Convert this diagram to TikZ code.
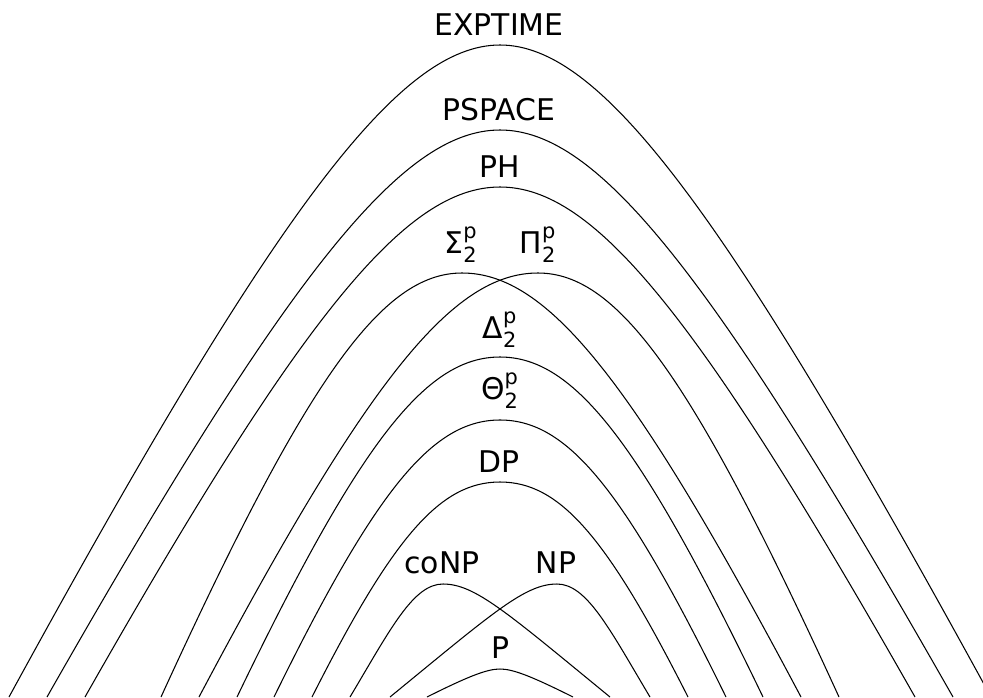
\documentclass[tikz,border=0pt]{standalone}
\usepackage{amsmath}
\usepackage{fontspec}
\setmainfont{DejaVu Sans}
\usepackage{tikz}

\begin{document}
\begin{tikzpicture}[x=0.02cm,y=-0.02cm,line width=0.6pt]
\tikzstyle{cls}=[font=\fontsize{17}{20}\selectfont,inner sep=0pt,anchor=base]
\useasboundingbox (0,0) rectangle (983,697);
\clip (0,0) rectangle (983,697);
% class borders, outermost first
\draw (9,697) .. controls (276.2,208) and (399,45) .. (500,45)
  .. controls (601,45) and (723.8,208) .. (991,697);
\draw (47,697) .. controls (289,271.7) and (402.3,130) .. (500,130)
  .. controls (597.7,130) and (711,271.7) .. (953,697);
\draw (85,697) .. controls (302.1,314.5) and (405.8,187) .. (500,187)
  .. controls (594.2,187) and (697.9,314.5) .. (915,697);
\draw (161,697) .. controls (306.4,379) and (381.6,273) .. (462,273)
  .. controls (547.6,273) and (632.4,379) .. (801,697);
\draw (199,697) .. controls (367.6,379) and (452.4,273) .. (538,273)
  .. controls (618.4,273) and (693.6,379) .. (839,697);
\draw (237,697) .. controls (359.9,442) and (425.7,357) .. (500,357)
  .. controls (574.3,357) and (640.1,442) .. (763,697);
\draw (274,697) .. controls (375.9,489.3) and (432.4,420) .. (500,420)
  .. controls (567.6,420) and (624.1,489.3) .. (726,697);
\draw (312,697) .. controls (393.5,535.8) and (440.5,482) .. (500,482)
  .. controls (559.5,482) and (606.5,535.8) .. (688,697);
\draw (350,697) .. controls (390,630) and (413,584) .. (443,584)
  .. controls (475,584) and (506.6,612.3) .. (610,697);
\draw (390,697) .. controls (493.4,612.3) and (525,584) .. (557,584)
  .. controls (587,584) and (610,630) .. (650,697);
\draw (427,697) .. controls (469,676) and (487.2,669) .. (500,669)
  .. controls (512.8,669) and (531,676) .. (573,697);
% labels
\node[cls] (exptime) at (499,35) {EXPTIME};
\node[cls] (pspace) at (499,120) {PSPACE};
\node[cls] (ph) at (500,177) {PH};
\node[cls] (sigma) at (461,253) {Σ$^{\text{p}}_{\text{2}}$};
\node[cls] (pi) at (538,253) {Π$^{\text{p}}_{\text{2}}$};
\node[cls] (delta) at (500,338) {Δ$^{\text{p}}_{\text{2}}$};
\node[cls] (theta) at (500,399) {Θ$^{\text{p}}_{\text{2}}$};
\node[cls] (dp) at (499,472) {DP};
\node[cls] (conp) at (442,573) {coNP};
\node[cls] (np) at (556,573) {NP};
\node[cls] (p) at (500,658) {P};
\end{tikzpicture}
\end{document}
